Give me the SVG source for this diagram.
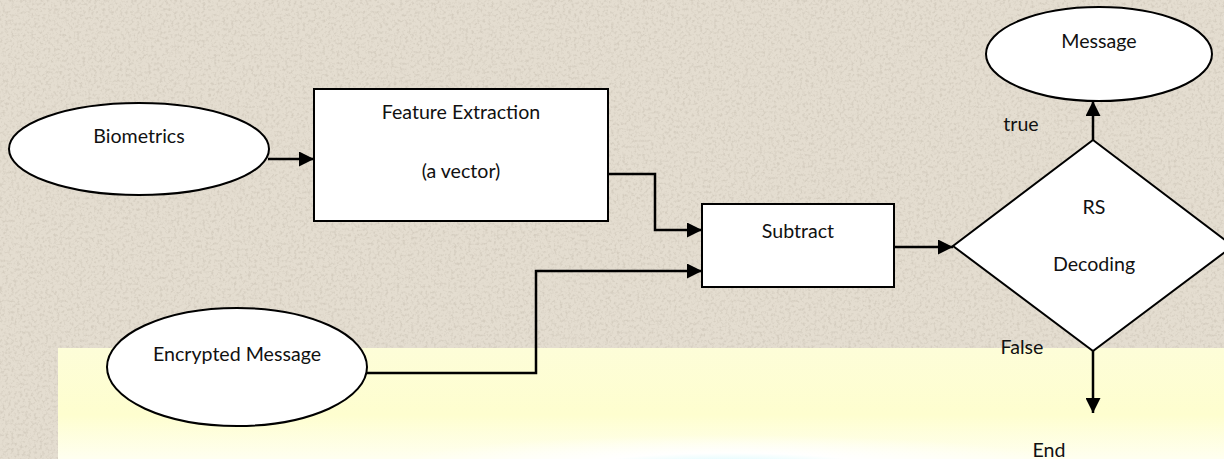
<svg xmlns="http://www.w3.org/2000/svg" width="1224" height="459" viewBox="0 0 1224 459">
  <defs>
    <style>
      .shape { fill: #ffffff; stroke: #000000; stroke-width: 2; }
      .wire { fill: none; stroke: #000000; stroke-width: 2.5; marker-end: url(#arrow); }
      .label { font-family: "Lato", "Liberation Sans", sans-serif; font-size: 19.6px; fill: #111111; text-anchor: middle; }
    </style>
    <marker id="arrow" markerUnits="userSpaceOnUse" markerWidth="15" markerHeight="15" refX="15" refY="7.5" orient="auto">
      <path d="M0,0 L15,7.5 L0,15 z" fill="#000000"/>
    </marker>
    <!-- speckled paper grain -->
    <filter id="grain" x="0" y="0" width="100%" height="100%">
      <feTurbulence type="fractalNoise" baseFrequency="0.35" numOctaves="3" seed="7" result="n"/>
      <feColorMatrix in="n" type="matrix" values="0 0 0 0 0.45  0 0 0 0 0.40  0 0 0 0 0.33  0 0 0 -3 1.6"/>
    </filter>
    <linearGradient id="paleYellow" x1="0" y1="0" x2="0" y2="1">
      <stop offset="0" stop-color="#fdfdd8"/>
      <stop offset="0.6" stop-color="#fefecf"/>
      <stop offset="1" stop-color="#fffff0"/>
    </linearGradient>
    <radialGradient id="glow" cx="0.5" cy="1" r="0.5" gradientUnits="objectBoundingBox">
      <stop offset="0" stop-color="#d2faff"/>
      <stop offset="0.4" stop-color="#ffffff" stop-opacity="0.95"/>
      <stop offset="1" stop-color="#ffffff" stop-opacity="0"/>
    </radialGradient>
  </defs>

  <!-- backdrop -->
  <rect x="0" y="0" width="1224" height="459" fill="#e4ddd0"/>
  <rect x="0" y="0" width="1224" height="459" filter="url(#grain)" opacity="0.3"/>
  <rect x="58" y="348" width="1166" height="111" fill="url(#paleYellow)"/>
  <rect x="390" y="405" width="680" height="60" fill="url(#glow)"/>

  <!-- connectors -->
  <g id="connectors">
    <path class="wire" d="M268,159 L314,159"/>
    <path class="wire" d="M608,174 L655,174 L655,230 L702,230"/>
    <path class="wire" d="M367,373 L536,373 L536,271 L702,271"/>
    <path class="wire" d="M894,247 L953,247"/>
    <path class="wire" d="M1093,140 L1093,101"/>
    <path class="wire" d="M1093,351 L1093,413"/>
  </g>

  <g id="biometrics">
    <ellipse class="shape" cx="139" cy="149" rx="130" ry="46"/>
    <text class="label" x="139" y="143">Biometrics</text>
  </g>

  <g id="feature-extraction">
    <rect class="shape" x="314" y="89" width="294" height="132"/>
    <text class="label" x="461" y="119">Feature Extraction</text>
    <text class="label" x="461" y="178">(a vector)</text>
  </g>

  <g id="encrypted-message">
    <ellipse class="shape" cx="237" cy="367" rx="130" ry="59"/>
    <text class="label" x="237" y="361">Encrypted Message</text>
  </g>

  <g id="subtract">
    <rect class="shape" x="702" y="204" width="192" height="83"/>
    <text class="label" x="798" y="238">Subtract</text>
  </g>

  <g id="rs-decoding">
    <polygon class="shape" points="1093,140 1233,246 1093,351 953,246"/>
    <text class="label" x="1094" y="214">RS</text>
    <text class="label" x="1094" y="271">Decoding</text>
  </g>

  <g id="message">
    <ellipse class="shape" cx="1099" cy="54" rx="113" ry="47"/>
    <text class="label" x="1099" y="48">Message</text>
  </g>

  <g id="branch-labels">
    <text class="label" x="1021" y="131">true</text>
    <text class="label" x="1022" y="354">False</text>
    <text class="label" x="1049" y="457">End</text>
  </g>
</svg>
